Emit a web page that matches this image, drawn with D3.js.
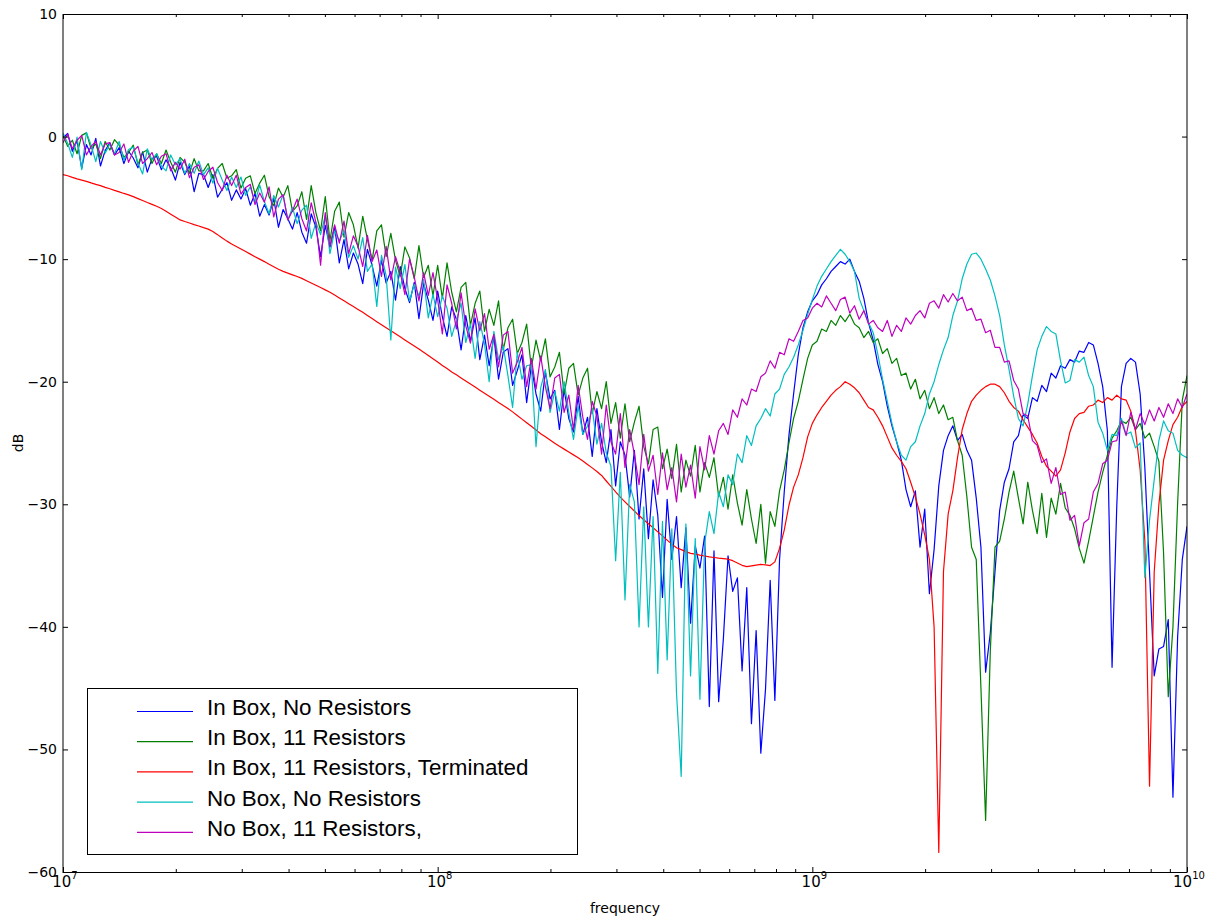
<!DOCTYPE html>
<html>
<head>
<meta charset="utf-8">
<script src="https://cdn.jsdelivr.net/npm/d3@7"></script>
<style>
  body { margin: 0; background: #fff; }
  svg { display: block; }
</style>
</head>
<body>
<div id="chart"></div>
<script>
// sweep: log-spaced from 10 MHz to 10 GHz, one value per point (dB)
const fStart = 1e7;
const fStop = 1e10;

const inBoxNoRes = [
  -0.1,0.25,-1.2,-0.35,-2.6,-0.65,-1.5,-0.15,-2.4,-1.15,
  -0.5,-1.5,-0.9,-2.2,-1.2,-1.75,-2.55,-1.25,-2.9,-1.8,
  -1.6,-2.7,-1.9,-2.55,-3.55,-2.1,-3.1,-2.4,-4.5,-3.0,
  -3.1,-4.15,-3.1,-4.95,-4.3,-3.75,-5.2,-4.35,-5.1,-4.25,
  -5.6,-4.65,-6.5,-5.55,-6.4,-5.05,-7.4,-5.95,-6.7,-7.55,
  -6.2,-7.8,-8.7,-6.3,-7.4,-9.8,-7.25,-9.0,-7.35,-10.3,
  -8.4,-10.8,-9.5,-10.4,-12.0,-9.2,-10.5,-12.2,-10.1,-11.95,
  -11.0,-13.35,-10.6,-12.4,-13.55,-11.9,-14.85,-12.0,-13.35,-15.0,
  -12.6,-14.7,-16.3,-13.9,-14.9,-17.4,-14.6,-16.7,-14.8,-18.2,
  -16.2,-18.7,-16.3,-19.8,-17.6,-17.3,-20.3,-19.1,-17.8,-21.7,
  -18.7,-21.0,-22.4,-19.2,-21.4,-20.7,-23.9,-20.6,-23.0,-24.1,
  -21.2,-24.3,-22.9,-26.1,-22.2,-24.9,-26.6,-23.9,-28.5,-24.9,
  -26.0,-29.4,-25.6,-31.2,-27.1,-32.8,-28.0,-30.9,-37.6,-29.6,
  -34.5,-31.0,-36.8,-31.9,-39.7,-33.4,-35.2,-32.6,-46.5,-33.8,
  -46.1,-41.0,-34.2,-37.1,-36.0,-43.6,-36.8,-47.9,-40.3,-50.3,
  -45.1,-36.2,-46.0,-34.5,-29.0,-24.4,-21.0,-17.8,-15.6,-14.3,
  -13.4,-12.9,-12.1,-11.6,-11.0,-10.6,-10.2,-10.4,-10.0,-11.0,
  -11.8,-13.2,-15.2,-16.6,-18.6,-20.0,-22.0,-23.6,-24.9,-26.4,
  -28.8,-30.2,-28.9,-33.5,-30.4,-37.3,-33.7,-28.5,-25.6,-24.4,
  -23.6,-24.8,-24.3,-25.6,-26.4,-29.5,-33.5,-43.7,-40.5,-35.5,
  -30.5,-28.2,-27.1,-24.9,-24.4,-22.7,-23.0,-21.3,-21.6,-20.3,
  -20.8,-19.3,-19.7,-18.7,-18.9,-18.2,-18.4,-17.5,-17.6,-16.8,
  -17.0,-18.5,-20.4,-24.0,-43.3,-30.2,-20.4,-18.5,-18.1,-18.4,
  -21.0,-27.0,-35.5,-44.0,-41.8,-41.6,-39.4,-53.9,-40.8,-34.5,
  -31.8
];

const inBox11Res = [
  0.1,-0.8,-0.3,-1.4,0.1,0.3,-1.0,-0.6,-1.8,-0.4,
  -1.1,-0.25,-0.7,-1.7,-1.3,-0.7,-2.3,-1.3,-1.1,-2.2,
  -1.4,-2.2,-1.1,-2.1,-2.9,-1.7,-2.1,-3.0,-1.8,-2.8,
  -2.8,-2.2,-3.4,-2.6,-2.2,-3.4,-3.2,-2.7,-4.2,-3.4,
  -3.2,-4.65,-3.8,-3.15,-4.9,-5.65,-4.2,-4.95,-4.0,-6.1,
  -5.65,-4.5,-6.75,-4.0,-6.2,-7.7,-4.9,-8.5,-6.1,-5.35,
  -8.2,-6.2,-7.2,-9.1,-6.5,-8.4,-10.1,-7.7,-7.2,-9.8,
  -7.9,-10.1,-11.4,-9.0,-9.9,-11.6,-8.9,-11.5,-10.5,-13.0,
  -10.5,-13.2,-10.3,-12.7,-14.3,-12.3,-11.9,-15.4,-13.6,-12.6,
  -15.9,-14.1,-15.4,-13.4,-17.4,-15.6,-14.9,-17.7,-16.8,-15.3,
  -18.9,-16.6,-18.3,-16.5,-19.6,-18.8,-17.6,-21.0,-18.9,-18.5,
  -21.1,-19.7,-18.9,-22.6,-20.8,-22.2,-20.0,-23.4,-21.7,-24.6,
  -21.8,-24.9,-23.3,-22.0,-25.3,-26.7,-23.9,-23.7,-27.1,-25.5,
  -27.9,-25.1,-29.0,-26.4,-27.7,-25.2,-29.0,-26.6,-27.8,-26.2,
  -29.4,-27.8,-30.4,-27.6,-29.9,-31.7,-28.8,-31.2,-33.2,-30.0,
  -34.8,-30.6,-31.8,-28.9,-27.2,-25.0,-23.0,-21.6,-19.8,-18.1,
  -17.0,-16.7,-15.7,-15.9,-15.0,-15.4,-14.6,-15.1,-14.5,-15.3,
  -15.6,-16.4,-15.9,-16.8,-16.5,-17.7,-17.3,-18.5,-18.1,-19.5,
  -19.3,-20.6,-19.8,-21.4,-20.7,-22.2,-21.3,-22.6,-21.9,-23.1,
  -22.9,-24.8,-26.0,-29.4,-33.5,-34.5,-45.0,-55.8,-42.0,-33.5,
  -33.0,-31.2,-29.0,-27.3,-29.5,-31.6,-28.2,-30.5,-32.4,-29.1,
  -32.7,-29.5,-30.8,-28.3,-30.3,-30.9,-32.0,-33.6,-34.8,-33.0,
  -31.0,-29.0,-27.4,-26.0,-24.6,-24.0,-23.2,-23.4,-22.9,-23.9,
  -23.4,-24.6,-24.2,-25.3,-26.5,-34.0,-45.7,-40.0,-29.9,-21.5,
  -19.5
];

const inBox11ResTerm = [
  -3.1,-3.2,-3.33,-3.45,-3.55,-3.65,-3.78,-3.9,-4.0,-4.14,
  -4.26,-4.39,-4.51,-4.64,-4.76,-4.9,-5.06,-5.22,-5.38,-5.53,
  -5.69,-5.87,-6.1,-6.34,-6.57,-6.8,-6.93,-7.05,-7.18,-7.3,
  -7.43,-7.55,-7.75,-8.0,-8.27,-8.53,-8.77,-8.97,-9.18,-9.38,
  -9.59,-9.8,-10.0,-10.2,-10.42,-10.62,-10.83,-11.0,-11.14,-11.28,
  -11.42,-11.57,-11.76,-11.94,-12.13,-12.32,-12.51,-12.7,-12.93,-13.17,
  -13.4,-13.64,-13.87,-14.1,-14.34,-14.6,-14.85,-15.1,-15.35,-15.6,
  -15.84,-16.09,-16.34,-16.6,-16.85,-17.09,-17.34,-17.6,-17.87,-18.13,
  -18.4,-18.67,-18.93,-19.2,-19.44,-19.69,-19.94,-20.19,-20.44,-20.69,
  -20.94,-21.19,-21.44,-21.69,-21.94,-22.19,-22.46,-22.75,-23.05,-23.35,
  -23.64,-23.94,-24.24,-24.5,-24.76,-25.02,-25.27,-25.5,-25.74,-25.97,
  -26.21,-26.47,-26.75,-27.03,-27.32,-27.65,-28.1,-28.54,-28.99,-29.42,
  -29.8,-30.18,-30.55,-30.92,-31.26,-31.59,-31.92,-32.25,-32.58,-32.92,
  -33.25,-33.55,-33.7,-33.86,-34.0,-34.07,-34.15,-34.22,-34.29,-34.34,
  -34.39,-34.43,-34.48,-34.6,-34.79,-34.98,-35.08,-35.02,-34.96,-34.9,
  -34.95,-35.0,-34.7,-33.6,-32.1,-30.1,-28.6,-27.6,-26.2,-24.5,
  -23.4,-22.7,-22.1,-21.6,-21.1,-20.7,-20.4,-20.0,-20.2,-20.5,
  -20.9,-21.5,-22.1,-22.3,-22.9,-23.6,-24.5,-25.4,-26.0,-26.5,
  -27.1,-28.2,-29.4,-30.8,-32.5,-34.5,-40.0,-58.4,-35.5,-30.8,
  -28.9,-26.2,-23.9,-22.6,-21.6,-21.1,-20.7,-20.4,-20.2,-20.2,
  -20.4,-20.9,-21.6,-22.1,-22.4,-23.1,-23.7,-24.3,-25.0,-26.1,
  -26.9,-27.3,-27.7,-27.2,-25.8,-24.1,-23.0,-22.6,-22.5,-22.0,
  -21.9,-21.5,-21.7,-21.3,-21.5,-21.1,-21.4,-21.5,-22.4,-24.0,
  -27.2,-33.0,-53.0,-35.5,-30.0,-26.4,-24.8,-23.5,-22.9,-22.0,
  -21.6
];

const noBoxNoRes = [
  0.3,-0.55,-1.7,-0.05,-2.7,0.35,-0.7,-2.05,-0.4,-1.35,
  -0.6,-1.4,-0.4,-1.95,-1.05,-0.85,-2.15,-3.05,-1.0,-1.9,
  -1.4,-2.4,-2.8,-1.5,-2.3,-1.8,-3.0,-2.2,-3.0,-2.0,
  -3.1,-2.55,-3.8,-2.6,-3.55,-4.4,-3.3,-4.15,-3.3,-4.8,
  -4.1,-5.4,-3.95,-5.3,-6.3,-4.8,-5.75,-4.75,-6.8,-5.8,
  -7.1,-6.0,-5.6,-8.3,-7.0,-8.0,-6.45,-9.55,-7.7,-8.5,
  -7.7,-9.85,-8.9,-10.0,-8.25,-11.0,-10.4,-13.85,-9.7,-11.35,
  -16.6,-10.65,-12.4,-10.45,-13.4,-12.05,-13.0,-11.65,-14.8,-12.85,
  -14.7,-13.0,-14.0,-16.3,-15.0,-13.6,-16.8,-15.3,-18.1,-15.1,
  -16.9,-20.0,-15.9,-18.2,-17.1,-19.5,-22.1,-17.6,-19.8,-18.7,
  -18.6,-25.3,-20.5,-19.0,-22.5,-20.8,-22.4,-20.0,-22.5,-24.7,
  -22.0,-24.3,-23.6,-22.2,-25.1,-23.4,-25.8,-26.9,-34.6,-27.4,
  -37.8,-28.4,-29.8,-40.0,-30.2,-40.0,-31.0,-43.8,-31.4,-42.7,
  -32.0,-45.4,-52.2,-31.6,-44.0,-32.8,-45.9,-33.2,-30.6,-32.4,
  -29.0,-30.2,-27.6,-28.4,-25.9,-26.6,-24.4,-25.2,-23.6,-23.0,
  -22.2,-22.8,-21.0,-20.6,-19.4,-18.8,-18.0,-17.0,-15.8,-14.5,
  -13.3,-12.2,-11.4,-10.8,-10.2,-9.7,-9.2,-9.6,-10.2,-11.0,
  -13.2,-14.2,-15.2,-16.0,-17.8,-19.8,-21.6,-23.4,-24.9,-26.0,
  -26.4,-25.3,-24.9,-23.6,-22.6,-21.0,-20.0,-18.6,-17.4,-16.4,
  -14.6,-13.4,-11.6,-10.4,-9.6,-9.5,-10.0,-10.8,-11.7,-13.0,
  -14.6,-17.0,-19.0,-21.2,-23.0,-23.6,-21.8,-19.5,-17.4,-16.3,
  -15.5,-15.9,-16.1,-18.3,-20.1,-19.9,-18.2,-18.4,-18.0,-19.5,
  -20.4,-23.3,-24.2,-25.6,-24.3,-24.4,-23.0,-24.3,-24.1,-25.4,
  -25.0,-36.0,-31.3,-28.0,-24.8,-23.2,-24.0,-24.2,-25.6,-26.0,
  -26.2
];

const noBox11Res = [
  -0.5,0.2,-1.0,-0.3,0.1,-1.5,-0.8,-0.4,-1.5,-0.6,
  -0.5,-1.5,-1.3,-0.6,-2.1,-1.2,-0.8,-2.2,-1.8,-1.3,
  -2.3,-1.6,-1.4,-2.8,-2.1,-2.65,-1.85,-3.35,-2.5,-2.3,
  -3.5,-2.85,-2.5,-3.75,-4.4,-3.15,-4.0,-3.15,-4.7,-4.15,
  -3.9,-5.55,-4.6,-5.35,-4.1,-6.55,-5.1,-4.75,-6.8,-6.05,
  -5.1,-6.7,-7.7,-5.4,-7.0,-10.5,-6.2,-9.0,-7.2,-8.7,
  -6.9,-9.55,-8.1,-8.95,-10.6,-8.05,-10.2,-9.25,-11.4,-8.95,
  -11.7,-9.8,-11.05,-12.9,-10.0,-11.45,-13.4,-11.1,-12.95,-11.1,
  -13.3,-16.1,-12.1,-13.6,-15.7,-12.75,-15.45,-16.85,-14.05,-15.85,
  -14.45,-17.35,-16.15,-18.8,-16.2,-15.9,-19.3,-18.4,-17.2,-20.4,
  -18.1,-20.6,-17.9,-20.4,-22.2,-19.7,-19.4,-22.5,-21.1,-23.9,
  -20.3,-22.9,-24.7,-21.6,-22.8,-25.9,-21.9,-24.9,-25.9,-22.6,
  -27.0,-23.9,-25.9,-28.4,-24.3,-27.3,-26.0,-29.2,-25.8,-28.8,
  -27.0,-29.8,-25.9,-28.6,-26.8,-29.5,-25.3,-27.2,-24.4,-25.9,
  -24.0,-23.4,-24.3,-22.3,-22.9,-21.4,-21.9,-20.6,-20.8,-19.6,
  -19.3,-18.3,-18.9,-17.6,-17.8,-16.5,-16.7,-15.9,-15.0,-14.8,
  -14.0,-13.6,-13.9,-13.0,-13.6,-14.2,-13.3,-13.1,-14.4,-13.8,
  -14.9,-14.2,-15.3,-15.0,-15.6,-15.9,-15.0,-16.3,-15.4,-15.9,
  -14.8,-15.3,-14.6,-14.2,-14.8,-13.6,-13.4,-14.0,-12.9,-13.5,
  -12.8,-13.4,-13.1,-14.2,-14.0,-15.0,-14.9,-16.0,-15.8,-17.2,
  -17.2,-18.4,-18.3,-19.9,-20.6,-22.6,-22.8,-24.8,-25.2,-26.6,
  -26.3,-28.3,-27.0,-29.2,-29.0,-31.3,-30.9,-33.4,-31.5,-31.2,
  -29.0,-28.3,-26.7,-26.4,-24.9,-24.8,-23.2,-24.4,-22.5,-23.9,
  -22.6,-23.5,-22.3,-23.2,-22.1,-22.9,-21.8,-22.6,-21.4,-22.1,
  -21.0
];

const seriesLabels = [
  "In Box, No Resistors",
  "In Box, 11 Resistors",
  "In Box, 11 Resistors, Terminated",
  "No Box, No Resistors",
  "No Box, 11 Resistors,"
];
const seriesColors = ["#0000ff", "#008000", "#ff0000", "#00bfbf", "#bf00bf"];
const seriesValues = [inBoxNoRes, inBox11Res, inBox11ResTerm, noBoxNoRes, noBox11Res];

const yTickValues = [-60, -50, -40, -30, -20, -10, 0, 10];
const xTickValues = [1e7, 1e8, 1e9, 1e10];
const xTickExps = ["7", "8", "9", "10"];

const width = 1208;
const height = 920;
const plot = { left: 63, right: 1187, top: 14, bottom: 872 };

const svg = d3.select("#chart")
  .append("svg")
  .attr("width", width)
  .attr("height", height);

const x = d3.scaleLog().domain([fStart, fStop]).range([plot.left, plot.right]);
const y = d3.scaleLinear().domain([-60, 10]).range([plot.bottom, plot.top]);

svg.append("rect")
  .attr("width", width)
  .attr("height", height)
  .attr("fill", "#fff");

svg.append("clipPath")
  .attr("id", "plotClip")
  .append("rect")
  .attr("x", plot.left)
  .attr("y", plot.top)
  .attr("width", plot.right - plot.left)
  .attr("height", plot.bottom - plot.top);

// frequency of point i in a log sweep of n points
function sweep(values) {
  const n = values.length;
  return values.map((v, i) => ({
    f: fStart * Math.pow(fStop / fStart, i / (n - 1)),
    v: v
  }));
}

const line = d3.line()
  .x(d => x(d.f))
  .y(d => y(d.v));

const lines = svg.append("g").attr("clip-path", "url(#plotClip)");
seriesValues.forEach((vals, k) => {
  lines.append("path")
    .datum(sweep(vals))
    .attr("d", line)
    .attr("fill", "none")
    .attr("stroke", seriesColors[k])
    .attr("stroke-width", 1.2)
    .attr("stroke-linejoin", "round");
});

// minor log ticks
const minorTicks = [];
[1e7, 1e8, 1e9].forEach(dec => {
  for (let m = 2; m <= 9; m++) minorTicks.push(dec * m);
});

const axisStyle = g => {
  g.select(".domain").remove();
  g.selectAll("line").attr("stroke", "#000");
};

svg.append("g")
  .attr("transform", `translate(0,${plot.bottom})`)
  .call(d3.axisBottom(x).tickValues(xTickValues).tickSize(-5).tickFormat(""))
  .call(axisStyle);
svg.append("g")
  .attr("transform", `translate(0,${plot.bottom})`)
  .call(d3.axisBottom(x).tickValues(minorTicks).tickSize(-3).tickFormat(""))
  .call(axisStyle);
svg.append("g")
  .attr("transform", `translate(0,${plot.top})`)
  .call(d3.axisTop(x).tickValues(xTickValues).tickSize(-5).tickFormat(""))
  .call(axisStyle);
svg.append("g")
  .attr("transform", `translate(0,${plot.top})`)
  .call(d3.axisTop(x).tickValues(minorTicks).tickSize(-3).tickFormat(""))
  .call(axisStyle);

svg.append("g")
  .attr("transform", `translate(${plot.left},0)`)
  .call(d3.axisLeft(y).tickValues(yTickValues).tickSize(-5).tickPadding(6))
  .call(axisStyle)
  .call(g => g.selectAll("text")
    .attr("font-family", "DejaVu Sans, sans-serif")
    .style("font-size", "14px")
    .attr("fill", "#000"));
svg.append("g")
  .attr("transform", `translate(${plot.right},0)`)
  .call(d3.axisRight(y).tickValues(yTickValues).tickSize(-5).tickFormat(""))
  .call(axisStyle);

// x tick labels as powers of ten
const xLabels = svg.append("g")
  .attr("font-family", "DejaVu Sans, sans-serif")
  .attr("fill", "#000");
xTickValues.forEach((v, k) => {
  const t = xLabels.append("text")
    .attr("x", x(v) + 2)
    .attr("y", 887)
    .attr("text-anchor", "middle")
    .style("font-size", "15px");
  t.append("tspan").style("font-size", "15px").text("10");
  t.append("tspan")
    .style("font-size", "10px")
    .attr("dy", -8)
    .text(xTickExps[k]);
});

// frame
svg.append("rect")
  .attr("x", plot.left)
  .attr("y", plot.top + 0.5)
  .attr("width", plot.right - plot.left)
  .attr("height", plot.bottom - plot.top)
  .attr("fill", "none")
  .attr("stroke", "#000")
  .attr("stroke-width", 1);

svg.append("text")
  .attr("x", (plot.left + plot.right) / 2)
  .attr("y", 913)
  .attr("text-anchor", "middle")
  .attr("font-family", "DejaVu Sans, sans-serif")
  .style("font-size", "14px")
  .text("frequency");

svg.append("text")
  .attr("transform", "translate(23,443) rotate(-90)")
  .attr("text-anchor", "middle")
  .attr("font-family", "DejaVu Sans, sans-serif")
  .style("font-size", "14px")
  .text("dB");

// legend
const legend = svg.append("g");
legend.append("rect")
  .attr("x", 87.5)
  .attr("y", 688.5)
  .attr("width", 490)
  .attr("height", 166)
  .attr("fill", "#fff")
  .attr("stroke", "#000");

seriesLabels.forEach((label, k) => {
  const ly = 711.5 + k * 30.2;
  legend.append("line")
    .attr("x1", 137)
    .attr("x2", 193)
    .attr("y1", ly)
    .attr("y2", ly)
    .attr("stroke", seriesColors[k])
    .attr("stroke-width", 1.2);
  legend.append("text")
    .attr("x", 207)
    .attr("y", ly + 3.5)
    .attr("font-family", "Liberation Sans, Arial, sans-serif")
    .style("font-size", "22.4px")
    .attr("fill", "#000")
    .text(label);
});
</script>
</body>
</html>
